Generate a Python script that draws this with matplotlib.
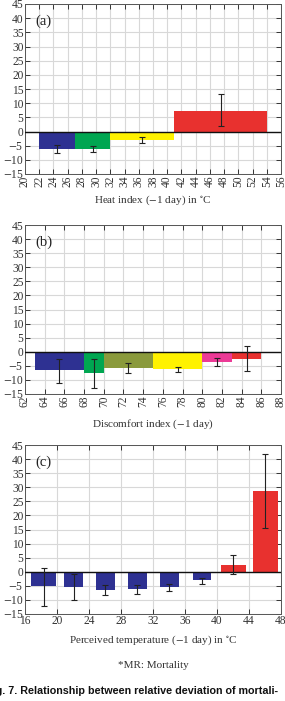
import matplotlib
matplotlib.use("Agg")
import matplotlib.pyplot as plt
import numpy as np

plt.rcParams['font.family'] = ['Liberation Serif', 'DejaVu Serif']
plt.rcParams['mathtext.fontset'] = 'stix'

# ---- Data ----
# (a) Heat index bins
a_left = [22, 27, 32, 41]
a_right = [27, 32, 41, 54]
a_vals = [-6.2, -6.2, -2.9, 7.1]
a_err_lo = [-7.6, -7.3, -4.2, 1.8]
a_err_hi = [-4.9, -5.0, -1.8, 13.3]
a_colors = ['#2e3192', '#00a651', '#fff200', '#e8312f']

# (b) Discomfort index bins
b_left = [63, 68, 70, 75, 80, 83]
b_right = [68, 70, 75, 80, 83, 86]
b_vals = [-6.6, -7.7, -5.6, -6.3, -3.6, -2.4]
b_err_lo = [-11.2, -12.9, -7.5, -7.3, -5.0, -6.7]
b_err_hi = [-2.4, -2.5, -3.9, -5.4, -2.1, 2.0]
b_colors = ['#2e3192', '#00a651', '#8a9a3c', '#fff200', '#ec3a96', '#e8312f']

# (c) Perceived temperature bins
c_left = [16.8, 20.9, 24.9, 28.9, 32.9, 37.0, 40.5, 44.5]
c_right = [19.9, 23.3, 27.2, 31.2, 35.2, 39.3, 43.6, 47.6]
c_vals = [-5.2, -5.4, -6.4, -6.3, -5.5, -3.1, 2.5, 28.5]
c_err_lo = [-12.0, -10.2, -8.2, -7.9, -6.8, -4.5, -0.8, 15.4]
c_err_hi = [1.3, -0.7, -4.8, -4.8, -4.5, -2.1, 6.0, 41.7]
c_colors = ['#2e3192'] * 6 + ['#e8312f'] * 2

panels = [
    dict(left=a_left, right=a_right, vals=a_vals, lo=a_err_lo, hi=a_err_hi, colors=a_colors,
         xlim=(20, 56), xticks=np.arange(20, 57, 2), rot=90, label='(a)',
         xlabel='Heat index ($-$1 day) in $^{\\circ}$C', top=4, bottom=174, xlab_y=200),
    dict(left=b_left, right=b_right, vals=b_vals, lo=b_err_lo, hi=b_err_hi, colors=b_colors,
         xlim=(62, 88), xticks=np.arange(62, 89, 2), rot=90, label='(b)',
         xlabel='Discomfort index ($-$1 day)', top=225, bottom=394, xlab_y=424),
    dict(left=c_left, right=c_right, vals=c_vals, lo=c_err_lo, hi=c_err_hi, colors=c_colors,
         xlim=(16, 48), xticks=np.arange(16, 49, 4), rot=0, label='(c)',
         xlabel='Perceived temperature ($-$1 day) in $^{\\circ}$C', top=445, bottom=614, xlab_y=640),
]

W, H = 285, 701
fig = plt.figure(figsize=(W / 100, H / 100), dpi=100)
fig.patch.set_facecolor('white')

for p in panels:
    ax = fig.add_axes([25 / W, (H - p['bottom']) / H, 256 / W, (p['bottom'] - p['top']) / H])
    left = np.array(p['left']); right = np.array(p['right'])
    centers = (left + right) / 2
    vals = np.array(p['vals'])
    ax.bar(left, vals, width=right - left, align='edge', color=p['colors'], zorder=2, linewidth=0)
    lo = np.array(p['lo']); hi = np.array(p['hi'])
    mid = (lo + hi) / 2
    ax.errorbar(centers, mid, yerr=(hi - lo) / 2, fmt='none', ecolor='#222222',
                elinewidth=0.8, capsize=2.5, capthick=0.8, zorder=4)
    ax.axhline(0, color='#111111', lw=1.0, zorder=3)
    ax.set_xlim(*p['xlim'])
    ax.set_ylim(-15, 45)
    ax.set_yticks(np.arange(-15, 46, 5))
    ax.set_xticks(p['xticks'])
    ax.set_xticklabels([str(t) for t in p['xticks']], rotation=p['rot'])
    ax.set_yticklabels([('$-$' + str(-t)) if t < 0 else str(t) for t in np.arange(-15, 46, 5)])
    ax.grid(True, color='#d8d8d8', lw=0.8, zorder=0)
    ax.tick_params(direction='in', length=3.5, width=0.7, top=True, right=True,
                   labelsize=8.3, pad=1.0, colors='#333333')
    for s in ax.spines.values():
        s.set_color('#555555'); s.set_linewidth(0.7)
    ax.text(0.04, 0.9, p['label'], transform=ax.transAxes, fontsize=10.5, color='#222222',
            va='center', ha='left')
    fig.text(153 / W, 1 - p['xlab_y'] / H, p['xlabel'], ha='center', va='center',
             fontsize=8, color='#333333')

fig.text(153 / W, 1 - 666 / H, '*MR: Mortality', ha='center', va='center', fontsize=8, color='#333333')
fig.text(-14 / W, 1 - 691 / H, 'Fig. 7. Relationship between relative deviation of mortali-',
         ha='left', va='center', fontsize=7.75, fontweight='bold',
         family=['Liberation Sans', 'DejaVu Sans'], color='#111111')

fig.savefig('out.png', dpi=100, facecolor='white')
